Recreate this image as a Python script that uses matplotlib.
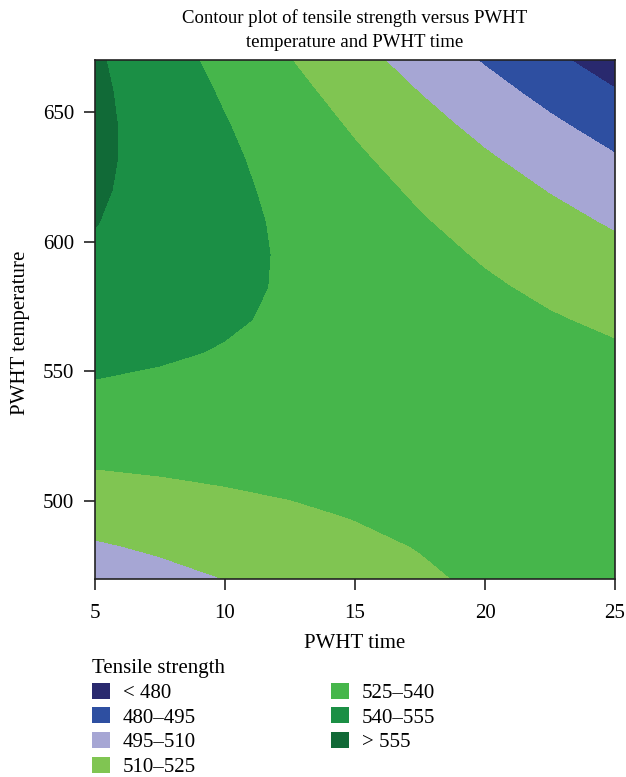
import numpy as np
import matplotlib
matplotlib.use("Agg")
import matplotlib.pyplot as plt
from matplotlib.patches import Patch

# PWHT time and PWHT temperature grid, strength
pwht_time = [5, 7.5, 10, 12.5, 15, 17.5, 20, 22.5, 25]
pwht_temp = [470, 482.5, 495, 507.5, 520, 532.5, 545, 557.5, 570,
             582.5, 595, 607.5, 620, 632.5, 645, 657.5, 670]
# rows = temperature, columns = time
strength = [
    [501.6, 505.9, 510.1, 514.4, 518.7, 522.9, 527.2, 531.4, 535.7],
    [508.5, 511.9, 515.3, 518.7, 522.1, 525.5, 528.9, 532.3, 535.7],
    [515.8, 518.3, 520.8, 523.2, 525.7, 528.2, 530.7, 533.1, 535.6],
    [522.6, 524.1, 525.7, 527.2, 528.8, 530.3, 531.9, 533.4, 535.0],
    [528.7, 529.3, 530.0, 530.6, 531.2, 531.8, 532.4, 533.1, 533.7],
    [534.3, 534.0, 533.7, 533.4, 533.1, 532.8, 532.4, 532.1, 531.8],
    [539.3, 538.0, 536.8, 535.6, 534.3, 533.1, 531.9, 530.6, 529.4],
    [543.7, 541.5, 539.3, 537.2, 535.0, 532.9, 530.7, 528.5, 526.4],
    [547.5, 544.4, 541.3, 538.2, 535.1, 532.0, 529.0, 525.9, 522.8],
    [550.7, 546.7, 542.7, 538.6, 534.6, 530.6, 526.6, 522.6, 518.6],
    [553.3, 548.4, 543.4, 538.5, 533.6, 528.6, 523.7, 518.7, 513.8],
    [555.4, 549.5, 543.6, 537.8, 531.9, 526.0, 520.2, 514.3, 508.4],
    [556.8, 550.0, 543.2, 536.4, 529.7, 522.9, 516.1, 509.3, 502.5],
    [557.7, 550.0, 542.3, 534.5, 526.8, 519.1, 511.4, 503.7, 495.9],
    [558.0, 549.3, 540.7, 532.0, 523.4, 514.8, 506.1, 497.5, 488.8],
    [557.7, 548.1, 538.5, 529.0, 519.4, 509.8, 500.3, 490.7, 481.1],
    [556.8, 546.3, 535.8, 525.3, 514.8, 504.3, 493.8, 483.3, 472.8],
]
levels = [440, 480, 495, 510, 525, 540, 555, 600]
level_labels = ["< 480", "480\u2013495", "495\u2013510", "510\u2013525",
                "525\u2013540", "540\u2013555", "> 555"]

colors = ["#29296e", "#2e4fa1", "#a6a6d4", "#80c552",
          "#46b64b", "#1b8f45", "#116a37"]

plt.rcParams['font.family'] = ['Liberation Serif', 'DejaVu Serif']

fig = plt.figure(figsize=(6.26, 7.77), dpi=100)
ax = fig.add_axes([95/626, 1 - 579/777, 520/626, 519/777])

ax.contourf(pwht_time, pwht_temp, np.array(strength), levels=levels, colors=colors,
            antialiased=False)

ax.set_xlim(5, 25)
ax.set_ylim(470, 670)
ax.set_xticks([5, 10, 15, 20, 25])
ax.set_yticks([500, 550, 600, 650])
ax.tick_params(direction='out', length=8, width=1.2, labelsize=15, pad=7,
               color='#222222')
ax.tick_params(axis='x', pad=10)
for s in ax.spines.values():
    s.set_color('#222222')
    s.set_linewidth(1.2)

ax.set_xlabel("PWHT time", fontsize=15, labelpad=8)
ax.set_ylabel("PWHT temperature", fontsize=15)
ax.yaxis.set_label_coords(-0.125, 0.475)

fig.text(355/626, 1 - 30/777,
         "Contour plot of tensile strength versus PWHT\ntemperature and PWHT time",
         ha='center', va='center', fontsize=13.5, linespacing=1.55)

handles = [Patch(facecolor=c, edgecolor='none') for c in colors]
leg = fig.legend(handles, level_labels, title="Tensile strength", ncol=2,
                 loc='upper left', bbox_to_anchor=(92/626, 1 - 659/777),
                 frameon=False, fontsize=15, title_fontsize=15,
                 alignment='left', handlelength=0.87, handleheight=0.8,
                 handletextpad=0.6, columnspacing=6.5, labelspacing=0.22,
                 borderpad=0, borderaxespad=0)

fig.savefig("out.png", dpi=100)
